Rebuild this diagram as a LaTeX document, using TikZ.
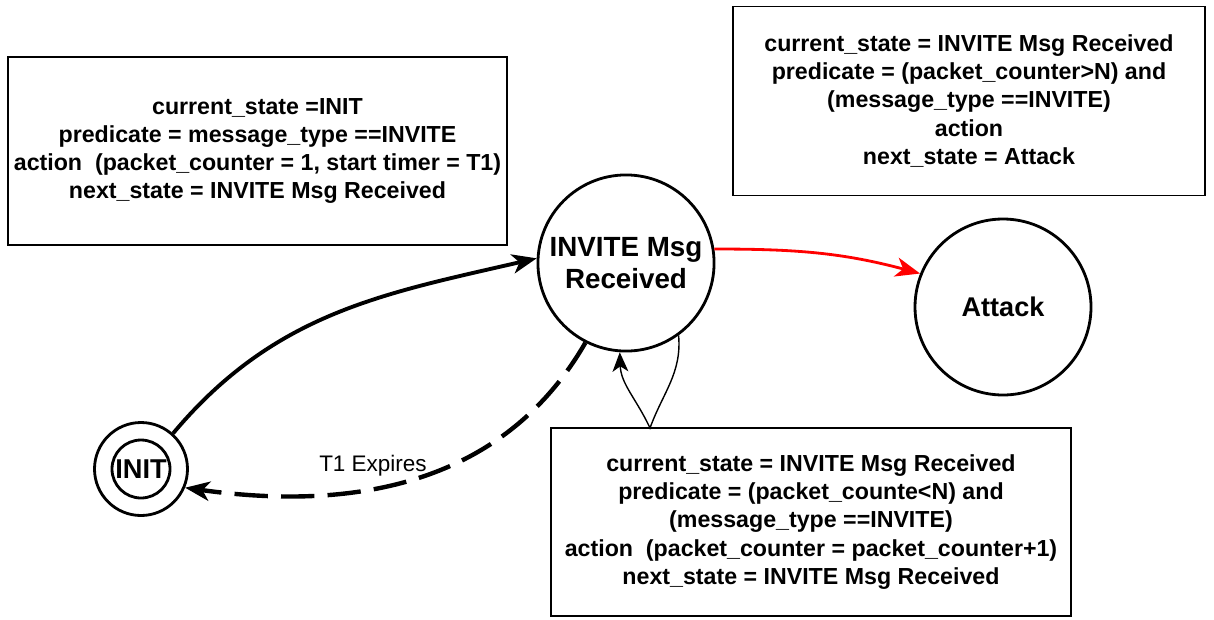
\documentclass[tikz,border=0pt]{standalone}
\usepackage{fontspec}
\setmainfont{Liberation Sans}
\usetikzlibrary{arrows.meta}

\tikzset{
  state/.style={circle, draw, line width=1.6pt, align=center,
    font=\fontsize{15.8}{18.5}\selectfont\bfseries},
  rulebox/.style={draw, line width=0.8pt, align=center,
    font=\fontsize{13.2}{16}\selectfont\bfseries},
  tip/.style={-{Stealth[length=14pt, width=11pt, inset=4pt]}}
}

\begin{document}
\begin{tikzpicture}
  \useasboundingbox (0,0) rectangle (24.28,-12.38);
  % states
  \node [state, minimum size=1.86cm] (init) at (2.82,-9.38) {};
  \node [state, minimum size=1.16cm, inner sep=0pt, font=\fontsize{15.5}{17}\selectfont\bfseries] (initin) at (init) {INIT};
  \node [state, minimum size=3.36cm] (inv) at (12.52,-5.26) {INVITE Msg\\Received};
  \node [state, minimum size=3.52cm, font=\fontsize{15.4}{18}\selectfont\bfseries] (attack) at (20.06,-6.14) {Attack};
  % rule boxes
  \node [rulebox, minimum width=9.9cm, minimum height=3.76cm] (rule1) at (5.15,-3.02)
    {current\_state =INIT\\predicate = message\_type ==INVITE\\action\ \ (packet\_counter = 1, start timer = T1)\\next\_state = INVITE Msg Received};
  \node [rulebox, minimum width=9.44cm, minimum height=3.78cm] (rule2) at (19.38,-2.02)
    {current\_state = INVITE Msg Received\\predicate = (packet\_counter>N) and\\(message\_type ==INVITE)\\action\\next\_state = Attack};
  \node [rulebox, minimum width=10.4cm, minimum height=3.76cm] (rule3) at (16.22,-10.44)
    {current\_state = INVITE Msg Received\\predicate = (packet\_counte<N) and\\(message\_type ==INVITE)\\action\ \ (packet\_counter = packet\_counter+1)\\next\_state = INVITE Msg Received};
  \coordinate (loop) at (13.0,-8.56);
  % transitions
  \draw [tip, line width=2.2pt] (init.48) to [out=50, in=193] (inv.177);
  \draw [tip, line width=2.5pt, dash pattern=on 19pt off 7.5pt] (inv.243) to [out=240, in=-8] (init.-23);
  \node [font=\fontsize{12.8}{15}\selectfont] (expires) at (7.46,-9.32) {T1 Expires};
  \draw [tip, line width=1.6pt, red] (inv.9) to [out=0, in=165] (attack.158);
  \draw [-{Stealth[length=11pt, width=9pt, inset=3pt]}, line width=0.8pt] (inv.-54) to [out=-85, in=70] (loop) to [out=115, in=-88] (inv.-94);
\end{tikzpicture}
\end{document}
